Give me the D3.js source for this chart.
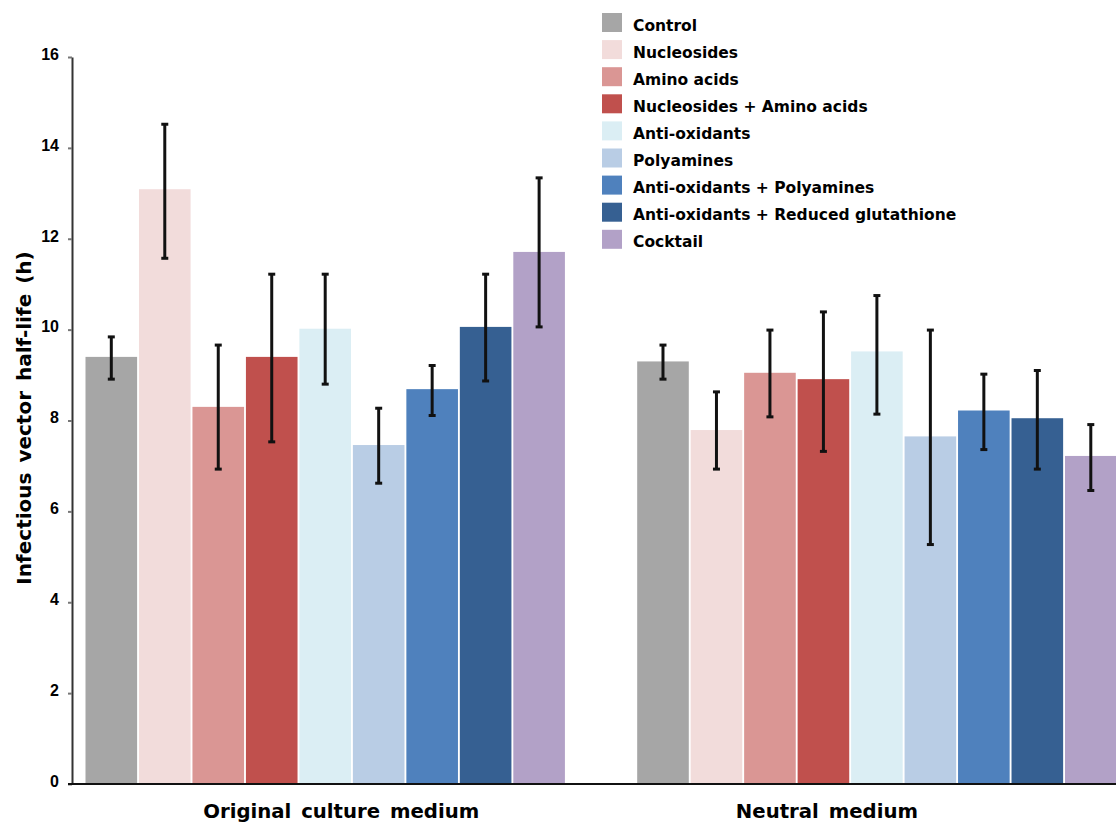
<!DOCTYPE html>
<html><head><meta charset="utf-8">
<script src="https://cdn.jsdelivr.net/npm/d3@7"></script>
<style>html,body{margin:0;padding:0;background:#fff;} svg{display:block;}</style>
</head><body>
<svg id="chart" width="1116" height="822"></svg>
<script>
const groups = ["Original culture medium", "Neutral medium"];
const series = ["Control", "Nucleosides", "Amino acids", "Nucleosides + Amino acids", "Anti-oxidants", "Polyamines", "Anti-oxidants + Polyamines", "Anti-oxidants + Reduced glutathione", "Cocktail"];
const colors = ["#a6a6a6", "#f2dcdb", "#da9694", "#c0504d", "#dbeef4", "#b9cde5", "#4f81bd", "#366092", "#b2a1c7"];
const originalValues = [9.40, 13.09, 8.30, 9.40, 10.02, 7.46, 8.69, 10.06, 11.71];
const originalUpper  = [9.84, 14.52, 9.66, 11.22, 11.22, 8.27, 9.21, 11.22, 13.34];
const originalLower  = [8.91, 11.57, 6.93, 7.53, 8.80, 6.62, 8.11, 8.87, 10.06];
const neutralValues  = [9.30, 7.79, 9.05, 8.91, 9.52, 7.65, 8.22, 8.05, 7.22];
const neutralUpper   = [9.66, 8.63, 9.99, 10.39, 10.75, 9.99, 9.02, 9.10, 7.91];
const neutralLower   = [8.91, 6.93, 8.08, 7.32, 8.14, 5.27, 7.36, 6.93, 6.46];
const yTicks = [0, 2, 4, 6, 8, 10, 12, 14, 16];
const yLabel = "Infectious vector half-life (h)";

const groupData = [
  {values: originalValues, upper: originalUpper, lower: originalLower},
  {values: neutralValues, upper: neutralUpper, lower: neutralLower}
];
const rows = [];
groups.forEach((g, gi) => series.forEach((s, si) => rows.push({
  group: g, series: s, color: colors[si],
  value: groupData[gi].values[si], hi: groupData[gi].upper[si], lo: groupData[gi].lower[si]
})));

const svg = d3.select("#chart");
const font = "'DejaVu Sans', Verdana, sans-serif";
const tickFont = "'Liberation Sans', Arial, sans-serif";

const y = d3.scaleLinear().domain([0, 16]).range([784, 57]);
const x0 = d3.scaleBand().domain(groups).range([85.5, 1116.6]).paddingInner(0.131).paddingOuter(0);
const x1 = d3.scaleBand().domain(series).range([0, x0.bandwidth()]).paddingInner(0.035).paddingOuter(0);

// bars
svg.append("g").selectAll("rect").data(rows).join("rect")
  .attr("x", d => x0(d.group) + x1(d.series))
  .attr("y", d => y(d.value))
  .attr("width", x1.bandwidth())
  .attr("height", d => y(0) - y(d.value))
  .attr("fill", d => d.color);

// error bars
const eb = svg.append("g").attr("stroke", "#111").attr("stroke-width", 3);
rows.forEach(d => {
  const cx = x0(d.group) + x1(d.series) + x1.bandwidth() / 2;
  eb.append("line").attr("x1", cx).attr("x2", cx).attr("y1", y(d.hi)).attr("y2", y(d.lo));
  eb.append("line").attr("x1", cx - 3.5).attr("x2", cx + 3.5).attr("y1", y(d.hi)).attr("y2", y(d.hi));
  eb.append("line").attr("x1", cx - 3.5).attr("x2", cx + 3.5).attr("y1", y(d.lo)).attr("y2", y(d.lo));
});

// y axis
const yAxis = svg.append("g").attr("transform", "translate(72,0)")
  .call(d3.axisLeft(y).tickValues(yTicks).tickSize(4).tickSizeOuter(0).tickPadding(9));
yAxis.select(".domain").attr("stroke", "#333").attr("stroke-width", 2);
yAxis.selectAll(".tick line").attr("stroke", "#777").attr("stroke-width", 2);
yAxis.selectAll(".tick text").attr("font-family", tickFont).attr("font-weight", "bold")
  .attr("font-size", 16).attr("fill", "#000").attr("dy", "0.14em");

// x axis (group labels sit slightly off their band centres in the original)
const labelShift = [16, -50];
const xAxis = svg.append("g").attr("transform", "translate(0,784)")
  .call(d3.axisBottom(x0).tickSize(0));
xAxis.select(".domain").attr("d", "M68,0H1116").attr("stroke", "#111").attr("stroke-width", 2);
xAxis.selectAll(".tick text").attr("font-family", font).attr("font-weight", "bold")
  .attr("font-size", 19.7).attr("fill", "#000").attr("y", 34).attr("dy", 0)
  .attr("x", (d, i) => labelShift[i])
  .attr("word-spacing", 3);

// y label
svg.append("text").attr("transform", "translate(31,418) rotate(-90)")
  .attr("text-anchor", "middle").attr("font-family", font).attr("font-weight", "bold")
  .attr("font-size", 20).attr("word-spacing", 3).attr("fill", "#000").text(yLabel);

// legend
const legend = svg.append("g").attr("transform", "translate(602,13)");
const li = legend.selectAll("g").data(series).join("g")
  .attr("transform", (d, i) => `translate(0,${i * 27.1})`);
li.append("rect").attr("width", 20).attr("height", 19).attr("fill", (d, i) => colors[i]);
li.append("text").attr("x", 31).attr("y", 17.5)
  .attr("font-family", font).attr("font-weight", "bold").attr("font-size", 15.5)
  .attr("fill", "#000").text(d => d);
</script>
</body></html>
